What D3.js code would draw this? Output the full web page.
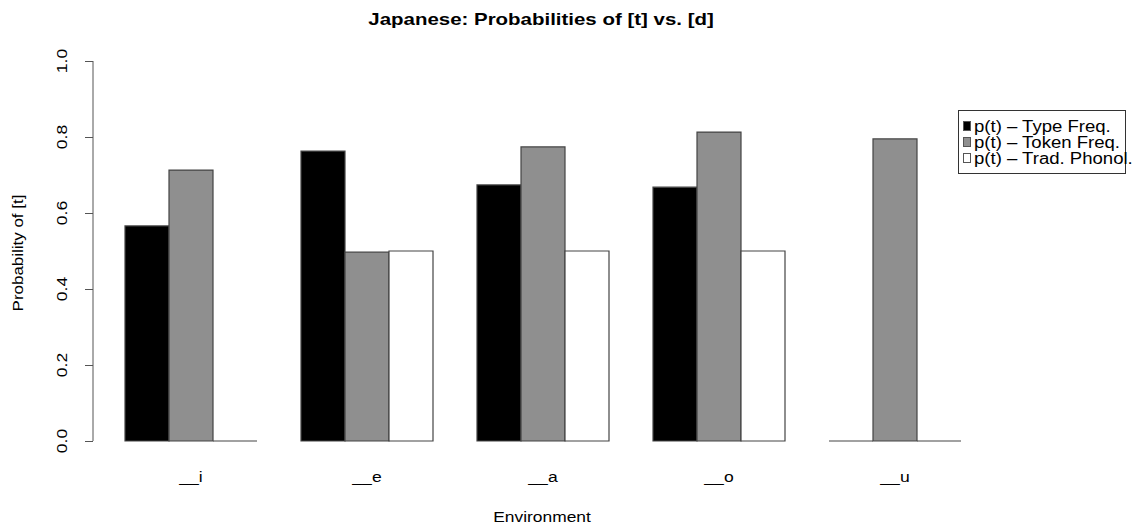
<!DOCTYPE html>
<html><head><meta charset="utf-8">
<script src="https://cdn.jsdelivr.net/npm/d3@7"></script>
<style>body{margin:0;background:#fff}svg{display:block}text{font-family:"Liberation Sans",Arial,sans-serif}</style>
</head><body>
<svg id="c" width="1138" height="529"></svg>
<script>
const categories = ["__i","__e","__a","__o","__u"];
const seriesNames = ["p(t) \u2013 Type Freq.","p(t) \u2013 Token Freq.","p(t) \u2013 Trad. Phonol."];
const typeFreq  = [0.566, 0.763, 0.674, 0.668, 0.0];
const tokenFreq = [0.713, 0.497, 0.774, 0.813, 0.795];
const tradPhonol= [0.0, 0.5, 0.5, 0.5, 0.0];
const yTicks = [0, 0.2, 0.4, 0.6, 0.8, 1.0];
const fills = ["#000000","#8f8f8f","#ffffff"];

const series = [typeFreq, tokenFreq, tradPhonol];
const svg = d3.select("#c");
const SX = 1.17;

function label(x, y, txt, opts) {
  opts = opts || {};
  const t = svg.append("text")
    .attr("transform", `translate(${x},${y}) rotate(${opts.rot || 0}) scale(${opts.sx || SX},1)`)
    .attr("text-anchor", opts.anchor || "middle")
    .attr("font-size", opts.size || 15)
    .attr("fill", "#000")
    .text(txt);
  if (opts.bold) t.attr("font-weight", "bold");
  if (opts.dy) t.attr("dy", opts.dy);
  return t;
}

const x0 = d3.scaleBand().domain(categories).range([103, 983]).paddingInner(0.25).paddingOuter(0.125);
const x1 = d3.scaleBand().domain(d3.range(3)).range([0, x0.bandwidth()]);
const y = d3.scaleLinear().domain([0, 1]).range([441, 61]);

const g = svg.append("g");
categories.forEach((c, i) => {
  series.forEach((s, j) => {
    const v = s[i];
    const xl = x0(c) + x1(j), xr = xl + x1.bandwidth();
    g.append("path")
      .attr("d", `M${xl},${y(0)}V${y(v)}H${xr}V${y(0)}Z`)
      .attr("fill", fills[j])
      .attr("stroke", "#444")
      .attr("stroke-width", 1.2);
  });
});

// y axis
const yAxis = d3.axisLeft(y).tickValues(yTicks).tickFormat(d3.format(".1f")).tickSize(8);
const ya = svg.append("g").attr("transform", "translate(93,0)").call(yAxis);
ya.select(".domain").attr("stroke", "#555").attr("d", `M0,${y(0)}V${y(1)}`);
ya.selectAll(".tick line").attr("stroke", "#555");
ya.selectAll(".tick text").remove();
yTicks.forEach(t => label(62, y(t), d3.format(".1f")(t), {rot: -90, dy: "0.35em"}));

// category labels
categories.forEach(c => label(x0(c) + x0.bandwidth() / 2, 482, c));

// axis titles
label(542, 522, "Environment", {size: 14.5, sx: 1.2});
label(23, 253, "Probability of [t]", {rot: -90, size: 14.5, sx: 1.17});

// title
label(541, 25, "Japanese: Probabilities of [t] vs. [d]", {size: 16.5, bold: true, sx: 1.24});

// legend
const lg = svg.append("g");
lg.append("rect").attr("x", 958.5).attr("y", 110.5).attr("width", 167).attr("height", 63)
  .attr("fill", "#fff").attr("stroke", "#333");
seriesNames.forEach((n, j) => {
  const cy = 126 + j * 16;
  lg.append("rect").attr("x", 963.5).attr("y", cy - 4.5).attr("width", 7).attr("height", 9)
    .attr("fill", fills[j]).attr("stroke", "#555");
  label(974, cy, n, {anchor: "start", size: 16, sx: 1.16, dy: "0.35em"});
});
</script>
</body></html>
